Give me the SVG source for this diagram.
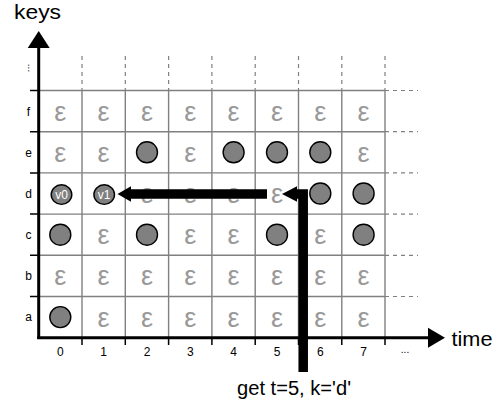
<svg xmlns="http://www.w3.org/2000/svg" width="502" height="403" viewBox="0 0 502 403">
  <style>
    text { font-family: "Liberation Sans", Arial, sans-serif; }
    .grid { stroke: #808080; stroke-width: 1.4; fill: none; }
    .dash { stroke: #808080; stroke-width: 1.2; stroke-dasharray: 4 4; fill: none; }
    .tick { stroke: #000; stroke-width: 1.5; }
    .axis { stroke: #000; stroke-width: 3; fill: none; }
    .eps { fill: #999999; font-size: 27px; text-anchor: middle; }
    .val { fill: #808080; stroke: #000; stroke-width: 1.4; }
    .vlabel { fill: #ffffff; font-size: 12px; text-anchor: middle; }
    .lbl { fill: #000; font-size: 12px; text-anchor: middle; }
    .big { fill: #000; font-size: 20px; }
    .flow { stroke: #000; stroke-width: 9.5; fill: none; stroke-linejoin: miter; }
  </style>

  <!-- grid -->
  <g id="grid">
    <path class="grid" d="M38.7,90.5H385 M38.7,131.7H385 M38.7,172.9H385 M38.7,214.1H385 M38.7,255.3H385 M38.7,296.5H385"/>
    <path class="grid" d="M82,90.5V337.7 M125.3,90.5V337.7 M168.6,90.5V337.7 M211.9,90.5V337.7 M255.2,90.5V337.7 M298.5,90.5V337.7 M341.8,90.5V337.7 M385,90.5V337.7"/>
    <path class="dash" d="M82,56V90.5 M125.3,56V90.5 M168.6,56V90.5 M211.9,56V90.5 M255.2,56V90.5 M298.5,56V90.5 M341.8,56V90.5 M385,56V90.5"/>
    <path class="dash" d="M385,90.5H418 M385,131.7H418 M385,172.9H418 M385,214.1H418 M385,255.3H418 M385,296.5H418"/>
    <path class="tick" d="M30,90.5H38.7 M30,131.7H38.7 M30,172.9H38.7 M30,214.1H38.7 M30,255.3H38.7 M30,296.5H38.7"/>
    <path class="tick" d="M82,337.7V345 M125.3,337.7V345 M168.6,337.7V345 M211.9,337.7V345 M255.2,337.7V345 M298.5,337.7V345 M341.8,337.7V345 M385,337.7V345"/>
  </g>

  <!-- axes -->
  <g id="key-axis">
    <path class="axis" d="M38.7,339V47"/>
    <polygon points="38.7,31 27.7,48 49.7,48" fill="#000"/>
    <text class="big" x="14" y="18.5" textLength="47" lengthAdjust="spacingAndGlyphs">keys</text>
  </g>
  <g id="time-axis">
    <path class="axis" d="M37.2,337.7H429"/>
    <polygon points="445,337.7 428,327.7 428,347.7" fill="#000"/>
    <text class="big" x="451.5" y="346" textLength="41" lengthAdjust="spacingAndGlyphs">time</text>
  </g>

  <!-- axis labels -->
  <g id="row-labels" class="lbl">
    <text x="28.5" y="115.5">f</text>
    <text x="28.5" y="156.5">e</text>
    <text x="28.5" y="197.5">d</text>
    <text x="28.5" y="238.5">c</text>
    <text x="28.5" y="280">b</text>
    <text x="28.5" y="321">a</text>
    <text transform="translate(27.5,68) rotate(90)" y="0" style="font-size:10px">...</text>
  </g>
  <g id="col-labels" class="lbl">
    <text x="60.3" y="356">0</text>
    <text x="103.6" y="356">1</text>
    <text x="147" y="356">2</text>
    <text x="190.3" y="356">3</text>
    <text x="233.6" y="356">4</text>
    <text x="277" y="356">5</text>
    <text x="320.3" y="356">6</text>
    <text x="363.6" y="356">7</text>
    <text x="405" y="353" style="font-size:10px">...</text>
  </g>

  <!-- empty cells (epsilon) -->
  <g id="empty-cells" class="eps">
    <!-- row f -->
    <text x="60.3" y="120.5">ε</text><text x="103.6" y="120.5">ε</text><text x="147" y="120.5">ε</text><text x="190.3" y="120.5">ε</text>
    <text x="233.6" y="120.5">ε</text><text x="277" y="120.5">ε</text><text x="320.3" y="120.5">ε</text><text x="363.6" y="120.5">ε</text>
    <!-- row e -->
    <text x="60.3" y="161.7">ε</text><text x="103.6" y="161.7">ε</text><text x="190.3" y="161.7">ε</text><text x="363.6" y="161.7">ε</text>
    <!-- row d -->
    <text x="147" y="202.9">ε</text><text x="190.3" y="202.9">ε</text><text x="233.6" y="202.9">ε</text><text x="277" y="202.9">ε</text>
    <!-- row c -->
    <text x="103.6" y="244.1">ε</text><text x="190.3" y="244.1">ε</text><text x="233.6" y="244.1">ε</text><text x="320.3" y="244.1">ε</text>
    <!-- row b -->
    <text x="60.3" y="285.3">ε</text><text x="103.6" y="285.3">ε</text><text x="147" y="285.3">ε</text><text x="190.3" y="285.3">ε</text>
    <text x="233.6" y="285.3">ε</text><text x="277" y="285.3">ε</text><text x="320.3" y="285.3">ε</text><text x="363.6" y="285.3">ε</text>
    <!-- row a -->
    <text x="103.6" y="326.5">ε</text><text x="147" y="326.5">ε</text><text x="190.3" y="326.5">ε</text>
    <text x="233.6" y="326.5">ε</text><text x="277" y="326.5">ε</text><text x="320.3" y="326.5">ε</text><text x="363.6" y="326.5">ε</text>
  </g>

  <!-- stored values -->
  <g id="values">
    <circle class="val" cx="147" cy="152.3" r="10.5"/>
    <circle class="val" cx="233.6" cy="152.3" r="10.5"/>
    <circle class="val" cx="277" cy="152.3" r="10.5"/>
    <circle class="val" cx="320.3" cy="152.3" r="10.5"/>
    <circle class="val" cx="320.3" cy="193.5" r="10.5"/>
    <circle class="val" cx="363.6" cy="193.5" r="10.5"/>
    <circle class="val" cx="60.3" cy="234.7" r="10.5"/>
    <circle class="val" cx="147" cy="234.7" r="10.5"/>
    <circle class="val" cx="277" cy="234.7" r="10.5"/>
    <circle class="val" cx="363.6" cy="234.7" r="10.5"/>
    <circle class="val" cx="60.3" cy="317.1" r="10.5"/>
  </g>
  <g id="v0">
    <ellipse class="val" cx="61.5" cy="194.6" rx="10.3" ry="9.8"/>
    <text class="vlabel" x="61.5" y="198.8">v0</text>
  </g>
  <g id="v1">
    <ellipse class="val" cx="104.2" cy="194.6" rx="10.3" ry="9.8"/>
    <text class="vlabel" x="104.2" y="198.8">v1</text>
  </g>

  <!-- lookup path -->
  <g id="connectors">
    <path class="flow" d="M303.2,372V194H296"/>
    <polygon points="297,186.3 282,194 297,201.7" fill="#000"/>
    <path class="flow" d="M267,194H130"/>
    <polygon points="131,186.3 117.5,194 131,201.7" fill="#000"/>
  </g>

  <g id="query-label">
    <text class="big" x="237" y="395" textLength="114" lengthAdjust="spacingAndGlyphs">get t=5, k='d'</text>
  </g>
</svg>
